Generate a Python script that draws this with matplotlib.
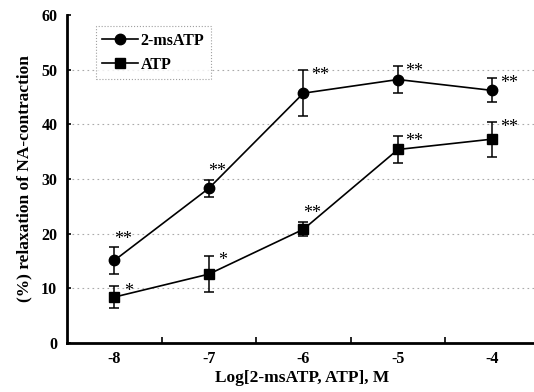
import matplotlib.pyplot as plt
from matplotlib.lines import Line2D

# dose categories (log M)
doses = ['-8', '-7', '-6', '-5', '-4']

# 2-msATP: mean and SEM
msatp_mean = [15.1, 28.3, 45.7, 48.2, 46.2]
msatp_err = [2.4, 1.6, 4.2, 2.5, 2.2]
msatp_sig = ['**', '**', '**', '**', '**']

# ATP: mean and SEM
atp_mean = [8.4, 12.6, 20.8, 35.4, 37.3]
atp_err = [2.0, 3.3, 1.3, 2.5, 3.2]
atp_sig = ['*', '*', '**', '**', '**']

plt.rcParams['font.family'] = ['Liberation Serif', 'DejaVu Serif']
plt.rcParams['font.weight'] = 'bold'

fig = plt.figure(figsize=(5.34, 3.92), dpi=100)
ax = fig.add_axes([0.1255, 0.125, 0.88, 0.8367])

x = list(range(1, len(doses) + 1))

ax.errorbar(x, msatp_mean, yerr=msatp_err, color='black', marker='o', markersize=7.5,
            linewidth=1.2, elinewidth=1.1, capsize=3.5, capthick=1.1)
ax.errorbar(x, atp_mean, yerr=atp_err, color='black', marker='s', markersize=7,
            linewidth=1.2, elinewidth=1.1, capsize=3.5, capthick=1.1)

# significance stars: offsets (points) from the top of the error bar
msatp_off = [(6, 6), (6, 6), (12, -4), (12, -4), (12, -4)]
atp_off = [(10, -4), (10, -3), (6, 6), (12, -4), (12, -4)]
for xi, m, e, s, o in zip(x, msatp_mean, msatp_err, msatp_sig, msatp_off):
    ax.annotate(s, (xi, m + e), xytext=o, textcoords='offset points',
                ha='center', va='center', fontsize=13, fontweight='normal')
for xi, m, e, s, o in zip(x, atp_mean, atp_err, atp_sig, atp_off):
    ax.annotate(s, (xi, m + e), xytext=o, textcoords='offset points',
                ha='center', va='center', fontsize=13, fontweight='normal')

ax.set_ylim(0, 60)
ax.set_yticks(range(0, 61, 10))
ax.set_xlim(0.5, 5.47)
ax.set_xticks(x)
ax.set_xticklabels(doses)
ax.set_xticks([1.5, 2.5, 3.5, 4.5], minor=True)
ax.tick_params(axis='x', which='major', length=0, pad=6, labelsize=11.5)
ax.tick_params(axis='x', which='minor', direction='in', length=4, width=1.2)
ax.tick_params(axis='y', direction='in', length=3, width=1.2, labelsize=11.5, pad=7)

for yv in range(10, 60, 10):
    ax.axhline(yv, color='#aaaaaa', linestyle=(0, (1.5, 3)), linewidth=0.8, zorder=0)

ax.spines['top'].set_visible(False)
ax.spines['right'].set_visible(False)
ax.spines['left'].set_linewidth(2)
ax.spines['bottom'].set_linewidth(2)

ax.set_xlabel('Log[2-msATP, ATP], M', fontsize=12.5, fontweight='bold', labelpad=2)
ax.set_ylabel('(%) relaxation of NA-contraction', fontsize=12.5, fontweight='bold', labelpad=6)

handles = [Line2D([], [], color='black', marker='o', markersize=7.5, linewidth=1.2),
           Line2D([], [], color='black', marker='s', markersize=7, linewidth=1.2)]
leg = ax.legend(handles, ['2-msATP', 'ATP'], loc='upper left',
                bbox_to_anchor=(0.055, 0.975), fontsize=11.5,
                handlelength=2.2, fancybox=False, borderpad=0.4, labelspacing=0.5,
                handletextpad=0.2, borderaxespad=0.2)
leg.get_frame().set_edgecolor('#888888')
leg.get_frame().set_linestyle(':')
leg.get_frame().set_linewidth(0.8)

fig.savefig('out.png', dpi=100)
